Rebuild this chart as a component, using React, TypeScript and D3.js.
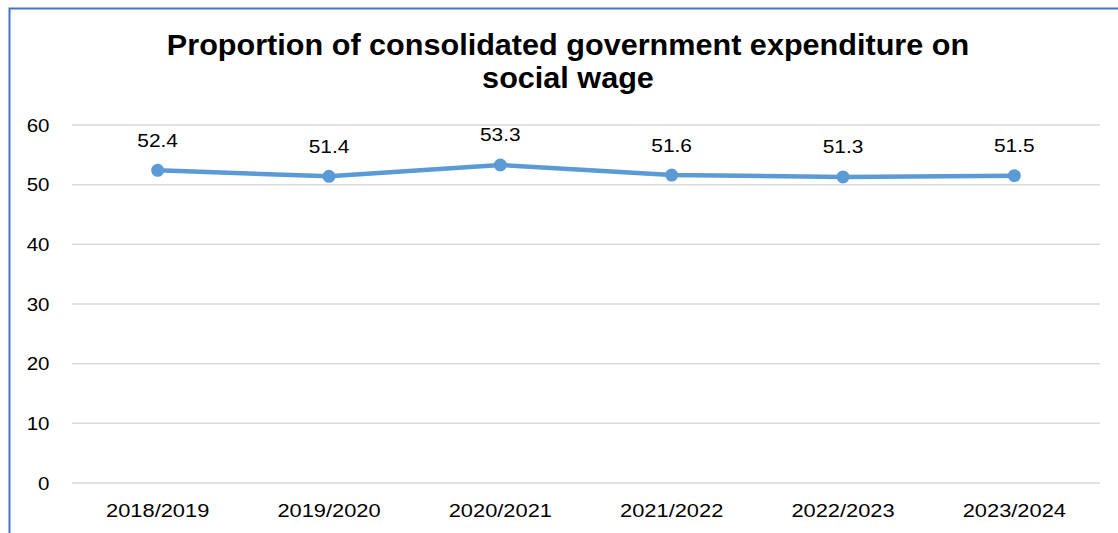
import React from "react";
import * as d3 from "d3";

const categories = ["2018/2019", "2019/2020", "2020/2021", "2021/2022", "2022/2023", "2023/2024"];
const values = [52.4, 51.4, 53.3, 51.6, 51.3, 51.5];
const yTicks = [0, 10, 20, 30, 40, 50, 60];
const titleLines = ["Proportion of consolidated government expenditure on", "social wage"];

function SText(props: { x: number; y: number; sx: number; anchor: string; size: number; bold?: boolean; children: React.ReactNode }) {
  return (
    <text
      transform={`translate(${props.x},${props.y}) scale(${props.sx},1)`}
      textAnchor={props.anchor}
      fontSize={props.size}
      fontWeight={props.bold ? "bold" : "normal"}
      fill="#000"
    >
      {props.children}
    </text>
  );
}

export default function App() {
  const W = 1118, H = 533;
  const left = 72, right = 1100, top = 125, bottom = 483;
  const x = d3.scaleBand<string>().domain(categories).range([left, right]);
  const y = d3.scaleLinear().domain([0, 60]).range([bottom, top]);
  const cx = (i: number) => (x(categories[i]) as number) + x.bandwidth() / 2;
  const line = d3.line<number>().x((_, i) => cx(i)).y((d) => y(d));
  const font = "Liberation Sans, Arial, sans-serif";
  return (
    <svg width={W} height={H} style={{ position: "absolute", left: 0, top: 0 }} fontFamily={font}>
      <rect x={0} y={0} width={W} height={H} fill="#fff" />
      <rect x={9.5} y={8.5} width={W + 20} height={H + 20} fill="none" stroke="#4472C4" strokeWidth={2} />
      {titleLines.map((t, i) => (
        <SText key={i} x={568} y={55 + i * 33} sx={1.02} anchor="middle" size={30} bold>{t}</SText>
      ))}
      {yTicks.map((t) => (
        <g key={t}>
          <line x1={left} x2={right} y1={y(t)} y2={y(t)} stroke="#d9d9d9" strokeWidth={1.5} />
          <SText x={49.5} y={y(t) + 6.5} sx={1.08} anchor="end" size={19}>{t}</SText>
        </g>
      ))}
      {categories.map((c, i) => (
        <SText key={c} x={cx(i)} y={517} sx={1.15} anchor="middle" size={19}>{c}</SText>
      ))}
      <path d={line(values) || ""} fill="none" stroke="#5B9BD5" strokeWidth={4.5} strokeLinejoin="round" />
      {values.map((v, i) => (
        <g key={i}>
          <circle cx={cx(i)} cy={y(v)} r={6.5} fill="#5B9BD5" />
          <SText x={cx(i)} y={y(v) - 23.5} sx={1.1} anchor="middle" size={19}>{v.toFixed(1)}</SText>
        </g>
      ))}
    </svg>
  );
}
